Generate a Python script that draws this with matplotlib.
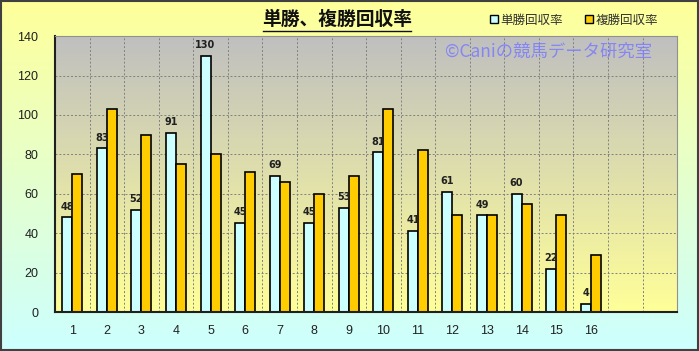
import numpy as np
import matplotlib.pyplot as plt
from matplotlib.patches import Rectangle
from matplotlib.lines import Line2D

plt.rcParams['font.family'] = ['Noto Sans CJK JP', 'DejaVu Sans']

# data
races = [str(i) for i in range(1, 17)]
win_return = [48, 83, 52, 91, 130, 45, 69, 45, 53, 81, 41, 61, 49, 60, 22, 4]
place_return = [70, 103, 90, 75, 80, 71, 66, 60, 69, 103, 82, 49, 49, 55, 49, 29]
n_slots = 18

fig = plt.figure(figsize=(6.99, 3.51), dpi=100)

# figure background gradient (yellow top -> cyan bottom)
bg = fig.add_axes([0, 0, 1, 1], zorder=-10)
grad = np.linspace(0, 1, 256)[:, None, None]
top = np.array([1.0, 1.0, 0.6])
bot = np.array([0.8, 1.0, 1.0])
img = top * (1 - grad) + bot * grad
bg.imshow(img, aspect='auto', extent=[0, 1, 0, 1])
bg.add_patch(Rectangle((0.001, 0.002), 0.997, 0.995, fill=False,
                       edgecolor='#404040', lw=1.5, transform=bg.transAxes))
bg.set_axis_off()

ax = fig.add_axes([0.0787, 0.111, 0.89, 0.786])
x = np.arange(1, 17)
w = 0.29

# plot area gradient (gray top -> light yellow bottom)
ptop = np.array([0.75, 0.75, 0.75])
pbot = np.array([1.0, 1.0, 0.6])
pimg = ptop * (1 - grad) + pbot * grad
ax.imshow(pimg, aspect='auto', extent=[0.5, n_slots + 0.5, 0, 140], zorder=0)

ax.bar(x - w / 2, win_return, width=w, color='#CCFFFF', edgecolor='black',
       linewidth=1.2, zorder=3)
ax.bar(x + w / 2, place_return, width=w, color='#FFCC00', edgecolor='black',
       linewidth=1.2, zorder=3)

for xi, v in zip(x, win_return):
    ax.text(xi - w / 2, v + 3, str(v), ha='center', va='bottom',
            fontsize=7, fontweight='bold', color='#202020', zorder=4,
            family='DejaVu Sans')

ax.set_xlim(0.5, n_slots + 0.5)
ax.set_ylim(0, 140)
ax.set_yticks(range(0, 141, 20))
ax.set_xticks(x)
ax.set_xticklabels(races)
ax.set_xticks(np.arange(1.5, n_slots, 1), minor=True)
ax.tick_params(axis='both', which='both', length=0, labelsize=9,
               colors='#202020')
ax.tick_params(axis='x', pad=9)
ax.tick_params(axis='y', pad=12)
for lbl in ax.get_xticklabels() + ax.get_yticklabels():
    lbl.set_family('Liberation Sans')
ax.grid(axis='y', color='#808080', linestyle=(0, (2, 2)), linewidth=0.7)
ax.grid(axis='x', which='minor', color='#808080', linestyle=(0, (2, 2)),
        linewidth=0.7)
ax.set_axisbelow(False)
for s in ax.spines.values():
    s.set_zorder(5)
ax.spines['left'].set_color('#202020')
ax.spines['bottom'].set_color('#202020')
ax.spines['right'].set_color('#909090')
ax.spines['top'].set_color('#909090')
ax.spines['left'].set_linewidth(1.5)
ax.spines['bottom'].set_linewidth(1.5)

# watermark
ax.text(0.794, 0.942, '©Caniの競馬データ研究室', transform=ax.transAxes,
        ha='center', va='center', fontsize=12.5, color='#7B7BFF', alpha=0.85,
        zorder=6)

fig.text(0.482, 0.945, '単勝、複勝回収率', ha='center', va='center',
         fontsize=13.5, fontweight='bold', color='#101010')
fig.add_artist(Line2D([0.376, 0.588], [0.912, 0.912], color='#101010',
                      lw=1.0, transform=fig.transFigure))

handles = [Rectangle((0, 0), 1, 1, facecolor='#CCFFFF', edgecolor='black', lw=1),
           Rectangle((0, 0), 1, 1, facecolor='#FFCC00', edgecolor='black', lw=1)]
fig.legend(handles, ['単勝回収率', '複勝回収率'], loc='center',
           bbox_to_anchor=(0.821, 0.943), ncol=2, frameon=False,
           fontsize=9, handlelength=0.6, handleheight=0.6,
           handletextpad=0.2, columnspacing=1.8,
           labelcolor='#303030')

fig.savefig('out.png', dpi=100)
